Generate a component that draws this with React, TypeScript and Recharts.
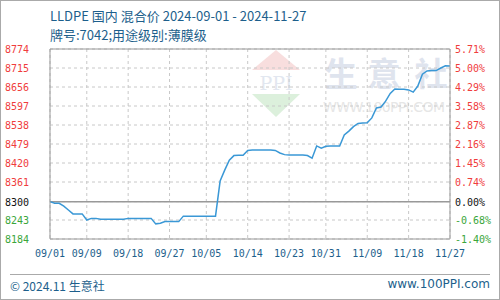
import React from 'react';
import { LineChart, Line, XAxis, YAxis, CartesianGrid, ReferenceLine } from 'recharts';

// daily LLDPE price, 09/01 .. 11/27 (88 days)
const prices = [
  8300, 8295, 8295, 8286, 8274, 8262, 8262, 8262, 8243, 8248, 8248,
  8245, 8245, 8245, 8245, 8245, 8245,
  8248, 8248, 8248, 8248, 8248, 8248,
  8231, 8233,
  8238, 8238, 8238, 8238,
  8255, 8255, 8255, 8255, 8255, 8255, 8255, 8255,
  8364, 8398, 8429, 8443, 8444, 8444, 8459,
  8460, 8460, 8460, 8460, 8460,
  8459, 8451, 8446,
  8445, 8445, 8445, 8445,
  8443, 8435, 8473, 8466, 8472,
  8473, 8473, 8473,
  8507, 8519, 8533, 8543, 8544, 8545, 8560, 8591, 8594, 8612, 8636, 8650,
  8649, 8649, 8647, 8640, 8659, 8696, 8706, 8707, 8707, 8715, 8722, 8721,
];

const xTickDays = [0, 8, 17, 26, 34, 43, 52, 60, 69, 78, 87];
const xLabels = ['09/01', '09/09', '09/18', '09/27', '10/05', '10/14', '10/23', '10/31', '11/09', '11/18', '11/27'];

const baseline = 8300;
const yTicks = [8184, 8243, 8300, 8361, 8420, 8479, 8538, 8597, 8656, 8715, 8774];
const pctLabels = ['-1.40%', '-0.68%', '0.00%', '0.74%', '1.45%', '2.16%', '2.87%', '3.58%', '4.29%', '5.00%', '5.71%'];

const data = prices.map((price, day) => ({ day, price }));

const BLUE_TEXT = '#1d5f8c';
const MONO = '"DejaVu Sans Mono", monospace';
const CJK = '"Noto Sans CJK SC", "Noto Sans", sans-serif';

const tickColor = (v: number) => (v > baseline ? '#f03c3c' : v < baseline ? '#3aa63a' : '#111');

const LeftTick = ({ y, payload }: any) => (
  <text x={5} y={y} dy={4} fill={tickColor(payload.value)} fontSize={10} fontFamily={MONO}>
    {payload.value}
  </text>
);

const RightTick = ({ y, payload }: any) => (
  <text x={455} y={y} dy={4} fill={tickColor(payload.value)} fontSize={10} fontFamily={MONO}>
    {pctLabels[yTicks.indexOf(payload.value)]}
  </text>
);

const Watermark = () => (
  <svg width={500} height={300} style={{ position: 'absolute', left: 0, top: 0 }}>
    <polygon points="276,50 300,70 252,70" fill="#f8dede" />
    <text x={276} y={90} textAnchor="middle" fontSize={19} fontFamily="DejaVu Serif" fill="#e2e7f0">PPI</text>
    <polygon points="252,94 300,94 276,117" fill="#dcf0dc" />
    <text x={341} y={86} textAnchor="middle" fontSize={33} fontWeight="bold" fontFamily={CJK} fill="#dfe4ee">生</text>
    <text x={384} y={86} textAnchor="middle" fontSize={33} fontWeight="bold" fontFamily={CJK} fill="#dfe4ee">意</text>
    <text x={431} y={86} textAnchor="middle" fontSize={33} fontWeight="bold" fontFamily={CJK} fill="#dfe4ee">社</text>
    <text x={323} y={112} fontSize={14} fontFamily="DejaVu Sans" fill="#e6e6e6" textLength={122}>WWW.100PPI.COM</text>
  </svg>
);

export default function App() {
  return (
    <div style={{ position: 'fixed', left: 0, top: 0, width: 500, height: 300, background: '#fff' }}>
      <Watermark />
      <div style={{ position: 'absolute', left: 0, top: 0 }}>
        <LineChart width={500} height={300} data={data} margin={{ top: 49, right: 5, bottom: 41, left: 5 }}>
          <CartesianGrid
            yAxisId="left"
            stroke="#c8c8c8"
            strokeDasharray="3 3"
            horizontalValues={yTicks}
            verticalValues={xTickDays}
          />
          <XAxis
            dataKey="day"
            type="number"
            domain={[0, 87]}
            ticks={xTickDays}
            tickFormatter={(d: number) => xLabels[xTickDays.indexOf(d)]}
            interval={0}
            height={20}
            stroke="#999"
            tickLine={false}
            tickMargin={5}
            tick={{ fill: BLUE_TEXT, fontSize: 10, fontFamily: MONO }}
          />
          <YAxis
            yAxisId="left"
            domain={[8184, 8774]}
            ticks={yTicks}
            interval={0}
            width={45}
            stroke="#999"
            tickLine={false}
            tick={<LeftTick />}
          />
          <YAxis
            yAxisId="right"
            orientation="right"
            domain={[8184, 8774]}
            ticks={yTicks}
            interval={0}
            width={45}
            stroke="#999"
            tickLine={false}
            tick={<RightTick />}
          />
          <ReferenceLine yAxisId="left" y={8774} stroke="#999" />
          <ReferenceLine yAxisId="left" y={baseline} stroke="#999" strokeWidth={1.5} />
          {/* same series on the percent axis, invisible, so that axis gets drawn */}
          <Line
            yAxisId="right"
            dataKey="price"
            stroke="none"
            dot={false}
            activeDot={false}
            isAnimationActive={false}
          />
          <Line
            yAxisId="left"
            dataKey="price"
            type="linear"
            stroke="#3a98d6"
            strokeWidth={1.5}
            dot={false}
            isAnimationActive={false}
          />
        </LineChart>
      </div>
      <div style={{ position: 'absolute', left: 50, top: 6, fontFamily: CJK, fontSize: 13, color: BLUE_TEXT, lineHeight: '19px', whiteSpace: 'nowrap' }}>
        <div>LLDPE 国内 混合价 2024-09-01 - 2024-11-27</div>
        <div>牌号:7042;用途级别:薄膜级</div>
      </div>
      <div style={{ position: 'absolute', left: 10, top: 274, width: 480, borderTop: '1px solid #aaa' }} />
      <div style={{ position: 'absolute', left: 10, top: 277, fontFamily: CJK, fontSize: 12, color: BLUE_TEXT, whiteSpace: 'nowrap' }}>
        © 2024.11 生意社
      </div>
      <div style={{ position: 'absolute', right: 10, top: 277, fontFamily: 'DejaVu Sans', fontSize: 12, color: BLUE_TEXT, whiteSpace: 'nowrap' }}>
        www.100PPI.com
      </div>
      <div style={{ position: 'absolute', left: 0, top: 0, width: 500, height: 300, boxSizing: 'border-box', border: '1px solid #aaa', pointerEvents: 'none' }} />
    </div>
  );
}
